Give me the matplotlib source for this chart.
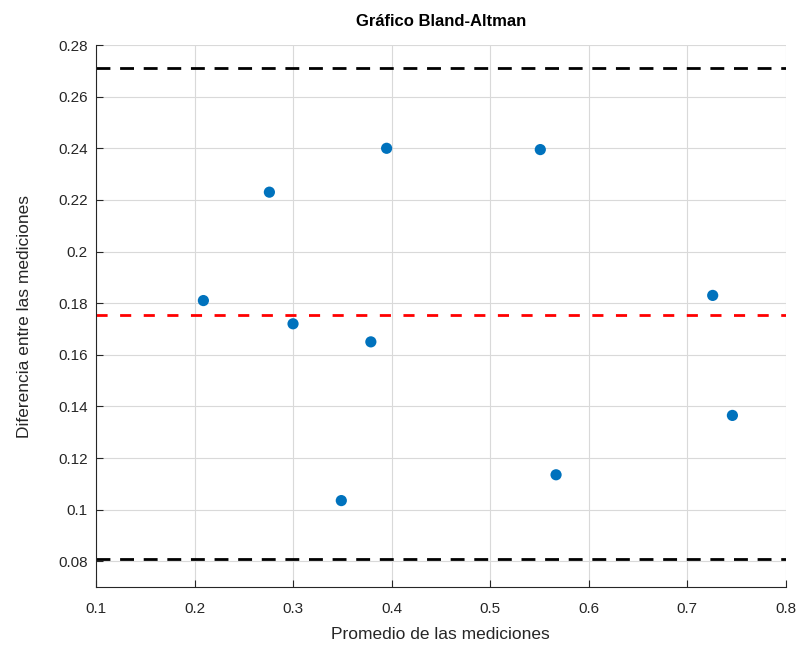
import matplotlib
matplotlib.use("Agg")
import matplotlib.pyplot as plt
from matplotlib.ticker import FuncFormatter

promedio = [0.209, 0.276, 0.300, 0.349, 0.379, 0.395, 0.551, 0.567, 0.726, 0.746]
diferencia = [0.181, 0.223, 0.172, 0.1035, 0.165, 0.240, 0.2395, 0.1135, 0.183, 0.1365]
media_dif = 0.1753
lim_sup = 0.2711
lim_inf = 0.0807

xticks = [0.1, 0.2, 0.3, 0.4, 0.5, 0.6, 0.7, 0.8]
yticks = [0.08, 0.1, 0.12, 0.14, 0.16, 0.18, 0.2, 0.22, 0.24, 0.26, 0.28]

plt.rcParams['font.family'] = ['Liberation Sans', 'DejaVu Sans']

fig = plt.figure(figsize=(8, 6.53), dpi=100)
ax = fig.add_axes([0.12, 0.101, 0.862, 0.830])

ax.scatter(promedio, diferencia, s=65, color='#0072BD', zorder=3, edgecolors='none')
ax.axhline(media_dif, color='#FF0000', linestyle=(0, (4.0, 4.5)), linewidth=2, zorder=2)
ax.axhline(lim_sup, color='black', linestyle=(0, (5.0, 3.5)), linewidth=2, zorder=2)
ax.axhline(lim_inf, color='black', linestyle=(0, (5.0, 3.5)), linewidth=2, zorder=2)

ax.set_xlim(0.1, 0.8)
ax.set_ylim(0.07, 0.28)
ax.set_xticks(xticks)
ax.set_yticks(yticks)
fmt = FuncFormatter(lambda v, p: ('%g' % round(v, 4)))
ax.xaxis.set_major_formatter(fmt)
ax.yaxis.set_major_formatter(fmt)

ax.grid(True, color='#d9d9d9', linewidth=0.8, zorder=0)
ax.set_axisbelow(True)
for s in ['top', 'right']:
    ax.spines[s].set_visible(False)
for s in ['left', 'bottom']:
    ax.spines[s].set_color('#262626')
    ax.spines[s].set_linewidth(0.8)
ax.tick_params(direction='in', length=5, labelsize=11, colors='#262626', pad=6)
ax.tick_params(axis='x', pad=11)

ax.set_xlabel('Promedio de las mediciones', fontsize=12.5, color='#262626', labelpad=8)
ax.set_ylabel('Diferencia entre las mediciones', fontsize=12.5, color='#262626', labelpad=19)
ax.set_title('Gráfico Bland-Altman', fontsize=12, fontweight='bold', color='black', pad=14)

fig.savefig('out.png', dpi=100)
